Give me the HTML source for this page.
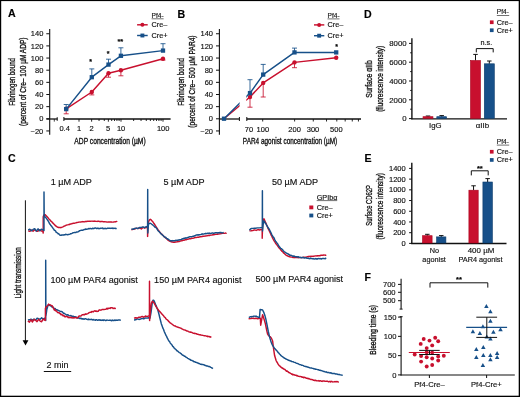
<!DOCTYPE html>
<html><head><meta charset="utf-8"><style>
html,body{margin:0;padding:0;background:#fff;}
svg{display:block;font-family:"Liberation Sans", sans-serif;will-change:transform;}
</style></head><body>
<svg width="520" height="397" viewBox="0 0 520 397">
<rect x="0" y="0" width="520" height="397" fill="#000"/>
<rect x="1.2" y="1.1" width="517.5" height="394.6" fill="#fff"/>
<text transform="translate(7.90 17.20)" font-size="10.6" text-anchor="start" font-weight="bold" fill="#000" stroke="#000" stroke-width="0.15">A</text>
<text transform="translate(177.60 17.50)" font-size="10.6" text-anchor="start" font-weight="bold" fill="#000" stroke="#000" stroke-width="0.15">B</text>
<text transform="translate(7.90 162.30)" font-size="10.6" text-anchor="start" font-weight="bold" fill="#000" stroke="#000" stroke-width="0.15">C</text>
<text transform="translate(364.00 17.70)" font-size="10.6" text-anchor="start" font-weight="bold" fill="#000" stroke="#000" stroke-width="0.15">D</text>
<text transform="translate(364.60 162.30)" font-size="10.6" text-anchor="start" font-weight="bold" fill="#000" stroke="#000" stroke-width="0.15">E</text>
<text transform="translate(364.40 281.30)" font-size="10.6" text-anchor="start" font-weight="bold" fill="#000" stroke="#000" stroke-width="0.15">F</text>
<line x1="49.70" y1="29.00" x2="49.70" y2="134.70" stroke="#111" stroke-width="1.1"/>
<line x1="46.30" y1="130.95" x2="49.70" y2="130.95" stroke="#111" stroke-width="1.0"/>
<text transform="translate(43.30 133.60)" font-size="7.5" text-anchor="end" font-weight="normal" fill="#111" stroke="#111" stroke-width="0.15">−20</text>
<line x1="46.30" y1="118.80" x2="49.70" y2="118.80" stroke="#111" stroke-width="1.0"/>
<text transform="translate(43.30 121.45)" font-size="7.5" text-anchor="end" font-weight="normal" fill="#111" stroke="#111" stroke-width="0.15">0</text>
<line x1="46.30" y1="106.65" x2="49.70" y2="106.65" stroke="#111" stroke-width="1.0"/>
<text transform="translate(43.30 109.30)" font-size="7.5" text-anchor="end" font-weight="normal" fill="#111" stroke="#111" stroke-width="0.15">20</text>
<line x1="46.30" y1="94.50" x2="49.70" y2="94.50" stroke="#111" stroke-width="1.0"/>
<text transform="translate(43.30 97.15)" font-size="7.5" text-anchor="end" font-weight="normal" fill="#111" stroke="#111" stroke-width="0.15">40</text>
<line x1="46.30" y1="82.35" x2="49.70" y2="82.35" stroke="#111" stroke-width="1.0"/>
<text transform="translate(43.30 85.00)" font-size="7.5" text-anchor="end" font-weight="normal" fill="#111" stroke="#111" stroke-width="0.15">60</text>
<line x1="46.30" y1="70.20" x2="49.70" y2="70.20" stroke="#111" stroke-width="1.0"/>
<text transform="translate(43.30 72.85)" font-size="7.5" text-anchor="end" font-weight="normal" fill="#111" stroke="#111" stroke-width="0.15">80</text>
<line x1="46.30" y1="58.05" x2="49.70" y2="58.05" stroke="#111" stroke-width="1.0"/>
<text transform="translate(43.30 60.70)" font-size="7.5" text-anchor="end" font-weight="normal" fill="#111" stroke="#111" stroke-width="0.15">100</text>
<line x1="46.30" y1="45.90" x2="49.70" y2="45.90" stroke="#111" stroke-width="1.0"/>
<text transform="translate(43.30 48.55)" font-size="7.5" text-anchor="end" font-weight="normal" fill="#111" stroke="#111" stroke-width="0.15">120</text>
<line x1="46.30" y1="33.75" x2="49.70" y2="33.75" stroke="#111" stroke-width="1.0"/>
<text transform="translate(43.30 36.40)" font-size="7.5" text-anchor="end" font-weight="normal" fill="#111" stroke="#111" stroke-width="0.15">140</text>
<text transform="translate(14.70 81.90) rotate(-90) scale(0.6837 1)" font-size="9" text-anchor="middle" font-weight="normal" fill="#111" stroke="#111" stroke-width="0.33">Fibrinogen bound</text>
<text transform="translate(25.50 81.70) rotate(-90) scale(0.7308 1)" font-size="9" text-anchor="middle" font-weight="normal" fill="#111" stroke="#111" stroke-width="0.33">(percent of Cre– 100 µM ADP)</text>
<text transform="translate(110.00 144.20) scale(0.7779 1)" font-size="8.6" text-anchor="middle" font-weight="normal" fill="#111" stroke="#111" stroke-width="0.33">ADP concentration (µM)</text>
<line x1="46.40" y1="119.00" x2="57.40" y2="119.00" stroke="#111" stroke-width="1.3"/>
<line x1="57.20" y1="117.20" x2="57.20" y2="120.80" stroke="#111" stroke-width="1.0"/>
<line x1="54.30" y1="119.00" x2="54.30" y2="121.60" stroke="#111" stroke-width="0.8"/>
<line x1="63.90" y1="119.00" x2="170.60" y2="119.00" stroke="#111" stroke-width="1.3"/>
<line x1="63.90" y1="117.00" x2="63.90" y2="121.00" stroke="#111" stroke-width="1.0"/>
<line x1="79.00" y1="119.00" x2="79.00" y2="121.70" stroke="#111" stroke-width="0.9"/>
<line x1="91.64" y1="119.00" x2="91.64" y2="121.70" stroke="#111" stroke-width="0.9"/>
<line x1="99.04" y1="119.00" x2="99.04" y2="121.00" stroke="#111" stroke-width="0.9"/>
<line x1="104.29" y1="119.00" x2="104.29" y2="121.00" stroke="#111" stroke-width="0.9"/>
<line x1="108.36" y1="119.00" x2="108.36" y2="121.70" stroke="#111" stroke-width="0.9"/>
<line x1="111.68" y1="119.00" x2="111.68" y2="121.00" stroke="#111" stroke-width="0.9"/>
<line x1="114.49" y1="119.00" x2="114.49" y2="121.00" stroke="#111" stroke-width="0.9"/>
<line x1="116.93" y1="119.00" x2="116.93" y2="121.00" stroke="#111" stroke-width="0.9"/>
<line x1="119.08" y1="119.00" x2="119.08" y2="121.00" stroke="#111" stroke-width="0.9"/>
<line x1="121.00" y1="119.00" x2="121.00" y2="121.70" stroke="#111" stroke-width="0.9"/>
<line x1="133.64" y1="119.00" x2="133.64" y2="121.00" stroke="#111" stroke-width="0.9"/>
<line x1="141.04" y1="119.00" x2="141.04" y2="121.00" stroke="#111" stroke-width="0.9"/>
<line x1="146.29" y1="119.00" x2="146.29" y2="121.00" stroke="#111" stroke-width="0.9"/>
<line x1="150.36" y1="119.00" x2="150.36" y2="121.00" stroke="#111" stroke-width="0.9"/>
<line x1="153.68" y1="119.00" x2="153.68" y2="121.00" stroke="#111" stroke-width="0.9"/>
<line x1="156.49" y1="119.00" x2="156.49" y2="121.00" stroke="#111" stroke-width="0.9"/>
<line x1="158.93" y1="119.00" x2="158.93" y2="121.00" stroke="#111" stroke-width="0.9"/>
<line x1="161.08" y1="119.00" x2="161.08" y2="121.00" stroke="#111" stroke-width="0.9"/>
<line x1="163.00" y1="119.00" x2="163.00" y2="121.70" stroke="#111" stroke-width="0.9"/>
<text transform="translate(64.60 131.40)" font-size="7.5" text-anchor="middle" font-weight="normal" fill="#111" stroke="#111" stroke-width="0.15">0.4</text>
<text transform="translate(79.00 131.40)" font-size="7.5" text-anchor="middle" font-weight="normal" fill="#111" stroke="#111" stroke-width="0.15">1</text>
<text transform="translate(91.60 131.40)" font-size="7.5" text-anchor="middle" font-weight="normal" fill="#111" stroke="#111" stroke-width="0.15">2</text>
<text transform="translate(108.20 131.40)" font-size="7.5" text-anchor="middle" font-weight="normal" fill="#111" stroke="#111" stroke-width="0.15">5</text>
<text transform="translate(121.10 131.40)" font-size="7.5" text-anchor="middle" font-weight="normal" fill="#111" stroke="#111" stroke-width="0.15">10</text>
<text transform="translate(163.20 131.40)" font-size="7.5" text-anchor="middle" font-weight="normal" fill="#111" stroke="#111" stroke-width="0.15">100</text>
<line x1="66.20" y1="108.80" x2="66.20" y2="113.80" stroke="#c8102e" stroke-width="0.85"/>
<line x1="63.70" y1="113.80" x2="68.70" y2="113.80" stroke="#c8102e" stroke-width="0.85"/>
<line x1="91.80" y1="92.00" x2="91.80" y2="94.90" stroke="#c8102e" stroke-width="0.85"/>
<line x1="89.30" y1="94.90" x2="94.30" y2="94.90" stroke="#c8102e" stroke-width="0.85"/>
<line x1="108.50" y1="73.30" x2="108.50" y2="77.20" stroke="#c8102e" stroke-width="0.85"/>
<line x1="106.00" y1="77.20" x2="111.00" y2="77.20" stroke="#c8102e" stroke-width="0.85"/>
<line x1="120.90" y1="70.30" x2="120.90" y2="75.80" stroke="#c8102e" stroke-width="0.85"/>
<line x1="118.40" y1="75.80" x2="123.40" y2="75.80" stroke="#c8102e" stroke-width="0.85"/>
<line x1="163.00" y1="58.70" x2="163.00" y2="60.00" stroke="#c8102e" stroke-width="0.85"/>
<line x1="160.50" y1="60.00" x2="165.50" y2="60.00" stroke="#c8102e" stroke-width="0.85"/>
<polyline points="66.20,108.80 91.80,92.00 108.50,73.30 120.90,70.30 163.00,58.70" fill="none" stroke="#c8102e" stroke-width="1.45" stroke-linejoin="round"/>
<circle cx="66.20" cy="108.80" r="2.2" fill="#c8102e"/>
<circle cx="91.80" cy="92.00" r="2.2" fill="#c8102e"/>
<circle cx="108.50" cy="73.30" r="2.2" fill="#c8102e"/>
<circle cx="120.90" cy="70.30" r="2.2" fill="#c8102e"/>
<circle cx="163.00" cy="58.70" r="2.2" fill="#c8102e"/>
<line x1="66.20" y1="109.10" x2="66.20" y2="104.50" stroke="#175089" stroke-width="0.85"/>
<line x1="63.70" y1="104.50" x2="68.70" y2="104.50" stroke="#175089" stroke-width="0.85"/>
<line x1="91.80" y1="77.20" x2="91.80" y2="68.90" stroke="#175089" stroke-width="0.85"/>
<line x1="89.30" y1="68.90" x2="94.30" y2="68.90" stroke="#175089" stroke-width="0.85"/>
<line x1="108.50" y1="64.60" x2="108.50" y2="59.20" stroke="#175089" stroke-width="0.85"/>
<line x1="106.00" y1="59.20" x2="111.00" y2="59.20" stroke="#175089" stroke-width="0.85"/>
<line x1="120.90" y1="55.80" x2="120.90" y2="47.80" stroke="#175089" stroke-width="0.85"/>
<line x1="118.40" y1="47.80" x2="123.40" y2="47.80" stroke="#175089" stroke-width="0.85"/>
<line x1="163.00" y1="50.60" x2="163.00" y2="43.70" stroke="#175089" stroke-width="0.85"/>
<line x1="160.50" y1="43.70" x2="165.50" y2="43.70" stroke="#175089" stroke-width="0.85"/>
<polyline points="66.20,109.10 91.80,77.20 108.50,64.60 120.90,55.80 163.00,50.60" fill="none" stroke="#175089" stroke-width="1.45" stroke-linejoin="round"/>
<rect x="64.05" y="106.95" width="4.3" height="4.3" fill="#175089"/>
<rect x="89.65" y="75.05" width="4.3" height="4.3" fill="#175089"/>
<rect x="106.35" y="62.45" width="4.3" height="4.3" fill="#175089"/>
<rect x="118.75" y="53.65" width="4.3" height="4.3" fill="#175089"/>
<rect x="160.85" y="48.45" width="4.3" height="4.3" fill="#175089"/>
<text transform="translate(90.60 64.10)" font-size="7.0" text-anchor="middle" font-weight="bold" fill="#000" stroke="#000" stroke-width="0.15">*</text>
<text transform="translate(108.20 55.60)" font-size="7.0" text-anchor="middle" font-weight="bold" fill="#000" stroke="#000" stroke-width="0.15">*</text>
<text transform="translate(120.30 44.40) scale(1.0646 1)" font-size="7.0" text-anchor="middle" font-weight="bold" fill="#000" stroke="#000" stroke-width="0.15">**</text>
<text transform="translate(151.60 17.60)" font-size="6.6" text-anchor="start" font-weight="normal" fill="#111" stroke="#111" stroke-width="0.15">Pf4-</text>
<line x1="151.60" y1="18.80" x2="163.60" y2="18.80" stroke="#111" stroke-width="0.6"/>
<line x1="137.10" y1="24.80" x2="147.70" y2="24.80" stroke="#c8102e" stroke-width="1.45"/>
<circle cx="142.40" cy="24.80" r="2.0" fill="#c8102e"/>
<text transform="translate(151.60 27.30)" font-size="7.3" text-anchor="start" font-weight="normal" fill="#111" stroke="#111" stroke-width="0.15">Cre–</text>
<line x1="137.10" y1="35.50" x2="147.70" y2="35.50" stroke="#175089" stroke-width="1.45"/>
<rect x="140.45" y="33.55" width="3.9" height="3.9" fill="#175089"/>
<text transform="translate(151.60 38.00)" font-size="7.3" text-anchor="start" font-weight="normal" fill="#111" stroke="#111" stroke-width="0.15">Cre+</text>
<line x1="219.40" y1="29.00" x2="219.40" y2="134.70" stroke="#111" stroke-width="1.1"/>
<line x1="216.00" y1="130.95" x2="219.40" y2="130.95" stroke="#111" stroke-width="1.0"/>
<text transform="translate(213.00 133.60)" font-size="7.5" text-anchor="end" font-weight="normal" fill="#111" stroke="#111" stroke-width="0.15">−20</text>
<line x1="216.00" y1="118.80" x2="219.40" y2="118.80" stroke="#111" stroke-width="1.0"/>
<text transform="translate(213.00 121.45)" font-size="7.5" text-anchor="end" font-weight="normal" fill="#111" stroke="#111" stroke-width="0.15">0</text>
<line x1="216.00" y1="106.65" x2="219.40" y2="106.65" stroke="#111" stroke-width="1.0"/>
<text transform="translate(213.00 109.30)" font-size="7.5" text-anchor="end" font-weight="normal" fill="#111" stroke="#111" stroke-width="0.15">20</text>
<line x1="216.00" y1="94.50" x2="219.40" y2="94.50" stroke="#111" stroke-width="1.0"/>
<text transform="translate(213.00 97.15)" font-size="7.5" text-anchor="end" font-weight="normal" fill="#111" stroke="#111" stroke-width="0.15">40</text>
<line x1="216.00" y1="82.35" x2="219.40" y2="82.35" stroke="#111" stroke-width="1.0"/>
<text transform="translate(213.00 85.00)" font-size="7.5" text-anchor="end" font-weight="normal" fill="#111" stroke="#111" stroke-width="0.15">60</text>
<line x1="216.00" y1="70.20" x2="219.40" y2="70.20" stroke="#111" stroke-width="1.0"/>
<text transform="translate(213.00 72.85)" font-size="7.5" text-anchor="end" font-weight="normal" fill="#111" stroke="#111" stroke-width="0.15">80</text>
<line x1="216.00" y1="58.05" x2="219.40" y2="58.05" stroke="#111" stroke-width="1.0"/>
<text transform="translate(213.00 60.70)" font-size="7.5" text-anchor="end" font-weight="normal" fill="#111" stroke="#111" stroke-width="0.15">100</text>
<line x1="216.00" y1="45.90" x2="219.40" y2="45.90" stroke="#111" stroke-width="1.0"/>
<text transform="translate(213.00 48.55)" font-size="7.5" text-anchor="end" font-weight="normal" fill="#111" stroke="#111" stroke-width="0.15">120</text>
<line x1="216.00" y1="33.75" x2="219.40" y2="33.75" stroke="#111" stroke-width="1.0"/>
<text transform="translate(213.00 36.40)" font-size="7.5" text-anchor="end" font-weight="normal" fill="#111" stroke="#111" stroke-width="0.15">140</text>
<text transform="translate(184.40 81.90) rotate(-90) scale(0.6837 1)" font-size="9" text-anchor="middle" font-weight="normal" fill="#111" stroke="#111" stroke-width="0.33">Fibrinogen bound</text>
<text transform="translate(195.20 81.60) rotate(-90) scale(0.7321 1)" font-size="9" text-anchor="middle" font-weight="normal" fill="#111" stroke="#111" stroke-width="0.33">(percent of Cre– 500 µM PAR4)</text>
<text transform="translate(290.00 144.20) scale(0.7495 1)" font-size="8.6" text-anchor="middle" font-weight="normal" fill="#111" stroke="#111" stroke-width="0.33">PAR4 agonist concentration (µM)</text>
<line x1="219.40" y1="119.00" x2="239.40" y2="119.00" stroke="#111" stroke-width="1.3"/>
<line x1="239.40" y1="117.00" x2="239.40" y2="121.00" stroke="#111" stroke-width="1.0"/>
<line x1="246.80" y1="119.00" x2="361.00" y2="119.00" stroke="#111" stroke-width="1.3"/>
<line x1="246.80" y1="117.00" x2="246.80" y2="121.00" stroke="#111" stroke-width="1.0"/>
<line x1="262.70" y1="119.00" x2="262.70" y2="121.50" stroke="#111" stroke-width="0.9"/>
<line x1="294.61" y1="119.00" x2="294.61" y2="121.50" stroke="#111" stroke-width="0.9"/>
<line x1="313.27" y1="119.00" x2="313.27" y2="121.50" stroke="#111" stroke-width="0.9"/>
<line x1="326.52" y1="119.00" x2="326.52" y2="121.50" stroke="#111" stroke-width="0.9"/>
<line x1="336.79" y1="119.00" x2="336.79" y2="121.50" stroke="#111" stroke-width="0.9"/>
<line x1="345.18" y1="119.00" x2="345.18" y2="121.50" stroke="#111" stroke-width="0.9"/>
<line x1="352.28" y1="119.00" x2="352.28" y2="121.50" stroke="#111" stroke-width="0.9"/>
<line x1="358.43" y1="119.00" x2="358.43" y2="121.50" stroke="#111" stroke-width="0.9"/>
<text transform="translate(248.90 131.60)" font-size="7.5" text-anchor="middle" font-weight="normal" fill="#111" stroke="#111" stroke-width="0.15">70</text>
<text transform="translate(262.80 131.60)" font-size="7.5" text-anchor="middle" font-weight="normal" fill="#111" stroke="#111" stroke-width="0.15">100</text>
<text transform="translate(294.60 131.60)" font-size="7.5" text-anchor="middle" font-weight="normal" fill="#111" stroke="#111" stroke-width="0.15">200</text>
<text transform="translate(313.00 131.60)" font-size="7.5" text-anchor="middle" font-weight="normal" fill="#111" stroke="#111" stroke-width="0.15">300</text>
<text transform="translate(336.30 131.60)" font-size="7.5" text-anchor="middle" font-weight="normal" fill="#111" stroke="#111" stroke-width="0.15">500</text>
<defs><clipPath id="cb"><rect x="0" y="0" width="239.6" height="397"/><rect x="246.3" y="0" width="200" height="397"/></clipPath></defs>
<g clip-path="url(#cb)">
<line x1="250.00" y1="97.00" x2="250.00" y2="107.20" stroke="#c8102e" stroke-width="0.85"/>
<line x1="247.50" y1="107.20" x2="252.50" y2="107.20" stroke="#c8102e" stroke-width="0.85"/>
<line x1="263.20" y1="82.90" x2="263.20" y2="97.00" stroke="#c8102e" stroke-width="0.85"/>
<line x1="260.70" y1="97.00" x2="265.70" y2="97.00" stroke="#c8102e" stroke-width="0.85"/>
<line x1="294.50" y1="62.40" x2="294.50" y2="67.70" stroke="#c8102e" stroke-width="0.85"/>
<line x1="292.00" y1="67.70" x2="297.00" y2="67.70" stroke="#c8102e" stroke-width="0.85"/>
<polyline points="224.00,118.70 250.00,97.00 263.20,82.90 294.50,62.40 336.20,57.70" fill="none" stroke="#c8102e" stroke-width="1.45" stroke-linejoin="round"/>
<circle cx="250.00" cy="97.00" r="2.2" fill="#c8102e"/>
<circle cx="263.20" cy="82.90" r="2.2" fill="#c8102e"/>
<circle cx="294.50" cy="62.40" r="2.2" fill="#c8102e"/>
<circle cx="336.20" cy="57.70" r="2.2" fill="#c8102e"/>
<line x1="250.00" y1="93.10" x2="250.00" y2="79.70" stroke="#175089" stroke-width="0.85"/>
<line x1="247.50" y1="79.70" x2="252.50" y2="79.70" stroke="#175089" stroke-width="0.85"/>
<line x1="263.20" y1="74.60" x2="263.20" y2="64.40" stroke="#175089" stroke-width="0.85"/>
<line x1="260.70" y1="64.40" x2="265.70" y2="64.40" stroke="#175089" stroke-width="0.85"/>
<line x1="294.50" y1="52.40" x2="294.50" y2="48.10" stroke="#175089" stroke-width="0.85"/>
<line x1="292.00" y1="48.10" x2="297.00" y2="48.10" stroke="#175089" stroke-width="0.85"/>
<polyline points="224.00,118.70 250.00,93.10 263.20,74.60 294.50,52.40 336.20,52.40" fill="none" stroke="#175089" stroke-width="1.45" stroke-linejoin="round"/>
<rect x="221.85" y="116.55" width="4.3" height="4.3" fill="#175089"/>
<rect x="247.85" y="90.95" width="4.3" height="4.3" fill="#175089"/>
<rect x="261.05" y="72.45" width="4.3" height="4.3" fill="#175089"/>
<rect x="292.35" y="50.25" width="4.3" height="4.3" fill="#175089"/>
<rect x="334.05" y="50.25" width="4.3" height="4.3" fill="#175089"/>
</g>
<text transform="translate(336.60 49.30)" font-size="7.0" text-anchor="middle" font-weight="bold" fill="#000" stroke="#000" stroke-width="0.15">*</text>
<text transform="translate(327.50 17.70)" font-size="6.6" text-anchor="start" font-weight="normal" fill="#111" stroke="#111" stroke-width="0.15">Pf4-</text>
<line x1="327.50" y1="18.90" x2="339.50" y2="18.90" stroke="#111" stroke-width="0.6"/>
<line x1="314.00" y1="24.90" x2="324.30" y2="24.90" stroke="#c8102e" stroke-width="1.45"/>
<circle cx="319.15" cy="24.90" r="2.0" fill="#c8102e"/>
<text transform="translate(327.50 27.40)" font-size="7.3" text-anchor="start" font-weight="normal" fill="#111" stroke="#111" stroke-width="0.15">Cre–</text>
<line x1="314.00" y1="35.70" x2="324.30" y2="35.70" stroke="#175089" stroke-width="1.45"/>
<rect x="317.20" y="33.75" width="3.9" height="3.9" fill="#175089"/>
<text transform="translate(327.50 38.20)" font-size="7.3" text-anchor="start" font-weight="normal" fill="#111" stroke="#111" stroke-width="0.15">Cre+</text>
<line x1="411.90" y1="38.30" x2="411.90" y2="119.30" stroke="#111" stroke-width="1.4"/>
<line x1="409.00" y1="118.60" x2="411.90" y2="118.60" stroke="#111" stroke-width="1.0"/>
<text transform="translate(406.60 121.30)" font-size="7.8" text-anchor="end" font-weight="normal" fill="#111" stroke="#111" stroke-width="0.15">0</text>
<line x1="410.20" y1="109.20" x2="411.90" y2="109.20" stroke="#111" stroke-width="1.0"/>
<line x1="409.00" y1="99.80" x2="411.90" y2="99.80" stroke="#111" stroke-width="1.0"/>
<text transform="translate(406.60 102.50)" font-size="7.8" text-anchor="end" font-weight="normal" fill="#111" stroke="#111" stroke-width="0.15">2000</text>
<line x1="410.20" y1="90.40" x2="411.90" y2="90.40" stroke="#111" stroke-width="1.0"/>
<line x1="409.00" y1="81.00" x2="411.90" y2="81.00" stroke="#111" stroke-width="1.0"/>
<text transform="translate(406.60 83.70)" font-size="7.8" text-anchor="end" font-weight="normal" fill="#111" stroke="#111" stroke-width="0.15">4000</text>
<line x1="410.20" y1="71.60" x2="411.90" y2="71.60" stroke="#111" stroke-width="1.0"/>
<line x1="409.00" y1="62.20" x2="411.90" y2="62.20" stroke="#111" stroke-width="1.0"/>
<text transform="translate(406.60 64.90)" font-size="7.8" text-anchor="end" font-weight="normal" fill="#111" stroke="#111" stroke-width="0.15">6000</text>
<line x1="410.20" y1="52.80" x2="411.90" y2="52.80" stroke="#111" stroke-width="1.0"/>
<line x1="409.00" y1="43.40" x2="411.90" y2="43.40" stroke="#111" stroke-width="1.0"/>
<text transform="translate(406.60 46.10)" font-size="7.8" text-anchor="end" font-weight="normal" fill="#111" stroke="#111" stroke-width="0.15">8000</text>
<line x1="411.20" y1="118.90" x2="507.00" y2="118.90" stroke="#111" stroke-width="1.4"/>
<line x1="428.00" y1="116.70" x2="428.00" y2="116.00" stroke="#111" stroke-width="1.0"/>
<line x1="425.75" y1="116.00" x2="430.25" y2="116.00" stroke="#111" stroke-width="1.0"/>
<rect x="423.00" y="116.70" width="10.00" height="1.70" fill="#c8102e" stroke="#a8001c" stroke-width="0.6"/>
<line x1="441.70" y1="116.70" x2="441.70" y2="115.60" stroke="#111" stroke-width="1.0"/>
<line x1="439.45" y1="115.60" x2="443.95" y2="115.60" stroke="#111" stroke-width="1.0"/>
<rect x="436.80" y="116.70" width="9.80" height="1.70" fill="#175089" stroke="#0b3a6a" stroke-width="0.6"/>
<line x1="475.50" y1="60.50" x2="475.50" y2="54.40" stroke="#111" stroke-width="1.0"/>
<line x1="473.25" y1="54.40" x2="477.75" y2="54.40" stroke="#111" stroke-width="1.0"/>
<rect x="470.50" y="60.50" width="10.00" height="57.90" fill="#c8102e" stroke="#a8001c" stroke-width="0.6"/>
<line x1="489.30" y1="63.80" x2="489.30" y2="61.00" stroke="#111" stroke-width="1.0"/>
<line x1="487.05" y1="61.00" x2="491.55" y2="61.00" stroke="#111" stroke-width="1.0"/>
<rect x="484.30" y="63.80" width="10.00" height="54.60" fill="#175089" stroke="#0b3a6a" stroke-width="0.6"/>
<path d="M476.30,52.40 L476.30,48.60 L493.20,48.60 L493.20,52.40" fill="none" stroke="#111" stroke-width="1.0"/>
<text transform="translate(486.40 45.00)" font-size="7.3" text-anchor="middle" font-weight="normal" fill="#111" stroke="#111" stroke-width="0.15">n.s.</text>
<text transform="translate(435.30 128.30) scale(1.0286 1)" font-size="7.6" text-anchor="middle" font-weight="normal" fill="#111" stroke="#111" stroke-width="0.15">IgG</text>
<text transform="translate(482.40 128.30) scale(1.0433 1)" font-size="7.6" text-anchor="middle" font-weight="normal" fill="#111" stroke="#111" stroke-width="0.15">αIIb</text>
<text transform="translate(372.00 78.90) rotate(-90) scale(0.7468 1)" font-size="9.3" text-anchor="middle" font-weight="normal" fill="#111" stroke="#111" stroke-width="0.33">Surface αIIb</text>
<text transform="translate(382.70 78.80) rotate(-90) scale(0.6902 1)" font-size="9.3" text-anchor="middle" font-weight="normal" fill="#111" stroke="#111" stroke-width="0.33">(fluorescence intensity)</text>
<text transform="translate(496.80 14.40)" font-size="6.6" text-anchor="start" font-weight="normal" fill="#111" stroke="#111" stroke-width="0.15">Pf4-</text>
<line x1="496.80" y1="15.50" x2="509.20" y2="15.50" stroke="#111" stroke-width="0.6"/>
<rect x="489.90" y="20.40" width="3.70" height="3.70" fill="#c8102e"/>
<text transform="translate(496.80 24.60)" font-size="7.3" text-anchor="start" font-weight="normal" fill="#111" stroke="#111" stroke-width="0.15">Cre–</text>
<rect x="489.90" y="28.40" width="3.70" height="3.70" fill="#175089"/>
<text transform="translate(496.80 32.60)" font-size="7.3" text-anchor="start" font-weight="normal" fill="#111" stroke="#111" stroke-width="0.15">Cre+</text>
<line x1="411.80" y1="162.70" x2="411.80" y2="244.10" stroke="#111" stroke-width="1.4"/>
<line x1="409.10" y1="243.40" x2="411.80" y2="243.40" stroke="#111" stroke-width="1.0"/>
<text transform="translate(405.70 246.05)" font-size="7.5" text-anchor="end" font-weight="normal" fill="#111" stroke="#111" stroke-width="0.15">0</text>
<line x1="409.10" y1="232.69" x2="411.80" y2="232.69" stroke="#111" stroke-width="1.0"/>
<text transform="translate(405.70 235.34)" font-size="7.5" text-anchor="end" font-weight="normal" fill="#111" stroke="#111" stroke-width="0.15">200</text>
<line x1="409.10" y1="221.97" x2="411.80" y2="221.97" stroke="#111" stroke-width="1.0"/>
<text transform="translate(405.70 224.62)" font-size="7.5" text-anchor="end" font-weight="normal" fill="#111" stroke="#111" stroke-width="0.15">400</text>
<line x1="409.10" y1="211.26" x2="411.80" y2="211.26" stroke="#111" stroke-width="1.0"/>
<text transform="translate(405.70 213.91)" font-size="7.5" text-anchor="end" font-weight="normal" fill="#111" stroke="#111" stroke-width="0.15">600</text>
<line x1="409.10" y1="200.54" x2="411.80" y2="200.54" stroke="#111" stroke-width="1.0"/>
<text transform="translate(405.70 203.19)" font-size="7.5" text-anchor="end" font-weight="normal" fill="#111" stroke="#111" stroke-width="0.15">800</text>
<line x1="409.10" y1="189.83" x2="411.80" y2="189.83" stroke="#111" stroke-width="1.0"/>
<text transform="translate(405.70 192.48)" font-size="7.5" text-anchor="end" font-weight="normal" fill="#111" stroke="#111" stroke-width="0.15">1000</text>
<line x1="409.10" y1="179.12" x2="411.80" y2="179.12" stroke="#111" stroke-width="1.0"/>
<text transform="translate(405.70 181.77)" font-size="7.5" text-anchor="end" font-weight="normal" fill="#111" stroke="#111" stroke-width="0.15">1200</text>
<line x1="409.10" y1="168.40" x2="411.80" y2="168.40" stroke="#111" stroke-width="1.0"/>
<text transform="translate(405.70 171.05)" font-size="7.5" text-anchor="end" font-weight="normal" fill="#111" stroke="#111" stroke-width="0.15">1400</text>
<line x1="411.10" y1="243.50" x2="506.50" y2="243.50" stroke="#111" stroke-width="1.4"/>
<line x1="427.30" y1="235.70" x2="427.30" y2="234.30" stroke="#111" stroke-width="1.0"/>
<line x1="425.05" y1="234.30" x2="429.55" y2="234.30" stroke="#111" stroke-width="1.0"/>
<rect x="422.50" y="235.70" width="9.60" height="7.30" fill="#c8102e" stroke="#a8001c" stroke-width="0.6"/>
<line x1="441.25" y1="236.90" x2="441.25" y2="235.60" stroke="#111" stroke-width="1.0"/>
<line x1="439.00" y1="235.60" x2="443.50" y2="235.60" stroke="#111" stroke-width="1.0"/>
<rect x="436.60" y="236.90" width="9.30" height="6.10" fill="#175089" stroke="#0b3a6a" stroke-width="0.6"/>
<line x1="473.55" y1="190.20" x2="473.55" y2="185.80" stroke="#111" stroke-width="1.0"/>
<line x1="471.30" y1="185.80" x2="475.80" y2="185.80" stroke="#111" stroke-width="1.0"/>
<rect x="468.90" y="190.20" width="9.30" height="52.80" fill="#c8102e" stroke="#a8001c" stroke-width="0.6"/>
<line x1="487.65" y1="182.00" x2="487.65" y2="178.60" stroke="#111" stroke-width="1.0"/>
<line x1="485.40" y1="178.60" x2="489.90" y2="178.60" stroke="#111" stroke-width="1.0"/>
<rect x="482.90" y="182.00" width="9.50" height="61.00" fill="#175089" stroke="#0b3a6a" stroke-width="0.6"/>
<path d="M471.30,175.40 L471.30,170.80 L488.20,170.80 L488.20,175.40" fill="none" stroke="#111" stroke-width="1.0"/>
<text transform="translate(479.80 170.90) scale(1.0646 1)" font-size="7.0" text-anchor="middle" font-weight="bold" fill="#000" stroke="#000" stroke-width="0.15">**</text>
<text transform="translate(434.40 252.60)" font-size="7.3" text-anchor="middle" font-weight="normal" fill="#111" stroke="#111" stroke-width="0.15">No</text>
<text transform="translate(434.10 261.90)" font-size="7.3" text-anchor="middle" font-weight="normal" fill="#111" stroke="#111" stroke-width="0.15">agonist</text>
<text transform="translate(481.00 252.60) scale(1.0859 1)" font-size="7.3" text-anchor="middle" font-weight="normal" fill="#111" stroke="#111" stroke-width="0.15">400 µM</text>
<text transform="translate(480.50 261.90)" font-size="7.3" text-anchor="middle" font-weight="normal" fill="#111" stroke="#111" stroke-width="0.15">PAR4 agonist</text>
<text transform="translate(372.00 205.40) rotate(-90) scale(0.6151 1)" font-size="9.5" text-anchor="middle" font-weight="normal" fill="#111" stroke="#111" stroke-width="0.33">Surface CD62P</text>
<text transform="translate(382.70 206.30) rotate(-90) scale(0.6965 1)" font-size="9.3" text-anchor="middle" font-weight="normal" fill="#111" stroke="#111" stroke-width="0.33">(fluorescence intensity)</text>
<text transform="translate(496.80 144.00)" font-size="6.6" text-anchor="start" font-weight="normal" fill="#111" stroke="#111" stroke-width="0.15">Pf4-</text>
<line x1="496.80" y1="145.10" x2="509.20" y2="145.10" stroke="#111" stroke-width="0.6"/>
<rect x="489.90" y="149.90" width="3.70" height="3.70" fill="#c8102e"/>
<text transform="translate(496.80 154.10)" font-size="7.3" text-anchor="start" font-weight="normal" fill="#111" stroke="#111" stroke-width="0.15">Cre–</text>
<rect x="489.90" y="158.10" width="3.70" height="3.70" fill="#175089"/>
<text transform="translate(496.80 162.30)" font-size="7.3" text-anchor="start" font-weight="normal" fill="#111" stroke="#111" stroke-width="0.15">Cre+</text>
<line x1="401.10" y1="278.80" x2="401.10" y2="309.10" stroke="#111" stroke-width="1.1"/>
<line x1="399.60" y1="309.10" x2="402.60" y2="309.10" stroke="#111" stroke-width="1.0"/>
<line x1="398.00" y1="284.40" x2="401.10" y2="284.40" stroke="#111" stroke-width="1.0"/>
<text transform="translate(395.60 287.05)" font-size="7.6" text-anchor="end" font-weight="normal" fill="#111" stroke="#111" stroke-width="0.15">700</text>
<line x1="398.00" y1="292.30" x2="401.10" y2="292.30" stroke="#111" stroke-width="1.0"/>
<text transform="translate(395.60 294.95)" font-size="7.6" text-anchor="end" font-weight="normal" fill="#111" stroke="#111" stroke-width="0.15">600</text>
<line x1="398.00" y1="300.70" x2="401.10" y2="300.70" stroke="#111" stroke-width="1.0"/>
<text transform="translate(395.60 303.35)" font-size="7.6" text-anchor="end" font-weight="normal" fill="#111" stroke="#111" stroke-width="0.15">500</text>
<line x1="401.10" y1="316.70" x2="401.10" y2="375.40" stroke="#111" stroke-width="1.1"/>
<line x1="399.60" y1="316.70" x2="402.60" y2="316.70" stroke="#111" stroke-width="1.0"/>
<line x1="398.00" y1="317.10" x2="401.10" y2="317.10" stroke="#111" stroke-width="1.0"/>
<text transform="translate(396.40 319.75)" font-size="7.6" text-anchor="end" font-weight="normal" fill="#111" stroke="#111" stroke-width="0.15">150</text>
<line x1="398.00" y1="336.37" x2="401.10" y2="336.37" stroke="#111" stroke-width="1.0"/>
<text transform="translate(396.40 339.02)" font-size="7.6" text-anchor="end" font-weight="normal" fill="#111" stroke="#111" stroke-width="0.15">100</text>
<line x1="398.00" y1="355.63" x2="401.10" y2="355.63" stroke="#111" stroke-width="1.0"/>
<text transform="translate(396.40 358.28)" font-size="7.6" text-anchor="end" font-weight="normal" fill="#111" stroke="#111" stroke-width="0.15">50</text>
<line x1="398.00" y1="374.90" x2="401.10" y2="374.90" stroke="#111" stroke-width="1.0"/>
<text transform="translate(396.40 377.55)" font-size="7.6" text-anchor="end" font-weight="normal" fill="#111" stroke="#111" stroke-width="0.15">0</text>
<line x1="400.60" y1="375.00" x2="514.80" y2="375.00" stroke="#111" stroke-width="1.1"/>
<line x1="429.40" y1="375.00" x2="429.40" y2="378.00" stroke="#111" stroke-width="1.0"/>
<line x1="486.60" y1="375.00" x2="486.60" y2="378.00" stroke="#111" stroke-width="1.0"/>
<text transform="translate(429.50 387.30) scale(1.0196 1)" font-size="7.5" text-anchor="middle" font-weight="normal" fill="#111" stroke="#111" stroke-width="0.15">Pf4-Cre–</text>
<text transform="translate(486.40 387.30) scale(1.0192 1)" font-size="7.5" text-anchor="middle" font-weight="normal" fill="#111" stroke="#111" stroke-width="0.15">Pf4-Cre+</text>
<text transform="translate(375.80 329.90) rotate(-90) scale(0.7718 1)" font-size="8.6" text-anchor="middle" font-weight="normal" fill="#111" stroke="#111" stroke-width="0.33">Bleeding time (s)</text>
<path d="M430.00,287.60 L430.00,282.80 L487.80,282.80 L487.80,287.60" fill="none" stroke="#111" stroke-width="1.0"/>
<text transform="translate(458.90 281.50) scale(1.0646 1)" font-size="7.0" text-anchor="middle" font-weight="bold" fill="#000" stroke="#000" stroke-width="0.15">**</text>
<circle cx="423.70" cy="339.00" r="1.95" fill="#c8102e"/>
<circle cx="429.50" cy="340.60" r="1.95" fill="#c8102e"/>
<circle cx="435.20" cy="337.80" r="1.95" fill="#c8102e"/>
<circle cx="438.20" cy="341.30" r="1.95" fill="#c8102e"/>
<circle cx="420.70" cy="343.90" r="1.95" fill="#c8102e"/>
<circle cx="432.20" cy="345.40" r="1.95" fill="#c8102e"/>
<circle cx="426.70" cy="348.10" r="1.95" fill="#c8102e"/>
<circle cx="426.70" cy="352.20" r="1.95" fill="#c8102e"/>
<circle cx="432.20" cy="352.60" r="1.95" fill="#c8102e"/>
<circle cx="414.70" cy="354.50" r="1.95" fill="#c8102e"/>
<circle cx="421.10" cy="356.00" r="1.95" fill="#c8102e"/>
<circle cx="426.70" cy="357.20" r="1.95" fill="#c8102e"/>
<circle cx="432.20" cy="358.50" r="1.95" fill="#c8102e"/>
<circle cx="438.20" cy="356.40" r="1.95" fill="#c8102e"/>
<circle cx="443.80" cy="355.70" r="1.95" fill="#c8102e"/>
<circle cx="421.10" cy="361.60" r="1.95" fill="#c8102e"/>
<circle cx="438.20" cy="360.50" r="1.95" fill="#c8102e"/>
<circle cx="432.20" cy="365.00" r="1.95" fill="#c8102e"/>
<circle cx="426.70" cy="366.50" r="1.95" fill="#c8102e"/>
<line x1="408.80" y1="352.50" x2="449.80" y2="352.50" stroke="#c8102e" stroke-width="1.2"/>
<line x1="419.20" y1="350.40" x2="439.70" y2="350.40" stroke="#111" stroke-width="1.0"/>
<line x1="419.20" y1="354.50" x2="439.70" y2="354.50" stroke="#111" stroke-width="1.0"/>
<line x1="429.50" y1="350.40" x2="429.50" y2="354.50" stroke="#111" stroke-width="1.0"/>
<polygon points="486.40,304.08 488.65,308.12 484.15,308.12" fill="#175089"/>
<polygon points="490.40,309.18 492.65,313.22 488.15,313.22" fill="#175089"/>
<polygon points="490.40,318.78 492.65,322.82 488.15,322.82" fill="#175089"/>
<polygon points="482.90,324.28 485.15,328.32 480.65,328.32" fill="#175089"/>
<polygon points="472.90,329.28 475.15,333.32 470.65,333.32" fill="#175089"/>
<polygon points="479.90,330.88 482.15,334.92 477.65,334.92" fill="#175089"/>
<polygon points="493.40,329.68 495.65,333.72 491.15,333.72" fill="#175089"/>
<polygon points="500.50,327.28 502.75,331.32 498.25,331.32" fill="#175089"/>
<polygon points="486.80,334.38 489.05,338.42 484.55,338.42" fill="#175089"/>
<polygon points="490.40,336.38 492.65,340.42 488.15,340.42" fill="#175089"/>
<polygon points="476.30,346.88 478.55,350.92 474.05,350.92" fill="#175089"/>
<polygon points="483.30,344.88 485.55,348.92 481.05,348.92" fill="#175089"/>
<polygon points="497.10,350.88 499.35,354.92 494.85,354.92" fill="#175089"/>
<polygon points="476.30,354.88 478.55,358.92 474.05,358.92" fill="#175089"/>
<polygon points="483.30,352.88 485.55,356.92 481.05,356.92" fill="#175089"/>
<polygon points="490.40,352.88 492.65,356.92 488.15,356.92" fill="#175089"/>
<polygon points="490.40,357.18 492.65,361.22 488.15,361.22" fill="#175089"/>
<polygon points="497.10,354.88 499.35,358.92 494.85,358.92" fill="#175089"/>
<polygon points="482.90,362.98 485.15,367.02 480.65,367.02" fill="#175089"/>
<line x1="466.20" y1="327.30" x2="507.10" y2="327.30" stroke="#175089" stroke-width="1.2"/>
<line x1="476.30" y1="317.20" x2="497.10" y2="317.20" stroke="#111" stroke-width="1.0"/>
<line x1="476.30" y1="337.40" x2="497.10" y2="337.40" stroke="#111" stroke-width="1.0"/>
<line x1="486.80" y1="317.20" x2="486.80" y2="337.40" stroke="#111" stroke-width="1.0"/>
<text transform="translate(71.30 185.00) scale(1.0123 1)" font-size="9.0" text-anchor="middle" font-weight="normal" fill="#111" stroke="#111" stroke-width="0.15">1 µM ADP</text>
<text transform="translate(184.00 184.70) scale(1.0123 1)" font-size="9.0" text-anchor="middle" font-weight="normal" fill="#111" stroke="#111" stroke-width="0.15">5 µM ADP</text>
<text transform="translate(295.00 184.70) scale(1.0130 1)" font-size="9.0" text-anchor="middle" font-weight="normal" fill="#111" stroke="#111" stroke-width="0.15">50 µM ADP</text>
<text transform="translate(50.40 282.70) scale(1.0061 1)" font-size="9.0" text-anchor="start" font-weight="normal" fill="#111" stroke="#111" stroke-width="0.15">100 µM PAR4 agonist</text>
<text transform="translate(154.10 282.80) scale(1.0061 1)" font-size="9.0" text-anchor="start" font-weight="normal" fill="#111" stroke="#111" stroke-width="0.15">150 µM PAR4 agonist</text>
<text transform="translate(255.50 281.80) scale(1.0061 1)" font-size="9.0" text-anchor="start" font-weight="normal" fill="#111" stroke="#111" stroke-width="0.15">500 µM PAR4 agonist</text>
<text transform="translate(20.90 272.90) rotate(-90) scale(0.7593 1)" font-size="8.4" text-anchor="middle" font-weight="normal" fill="#111" stroke="#111" stroke-width="0.33">Light transmission</text>
<text transform="translate(57.50 367.50) scale(1.0177 1)" font-size="8.8" text-anchor="middle" font-weight="normal" fill="#111" stroke="#111" stroke-width="0.15">2 min</text>
<line x1="43.80" y1="371.50" x2="71.20" y2="371.50" stroke="#111" stroke-width="1.0"/>
<line x1="25.40" y1="200.30" x2="25.40" y2="341.00" stroke="#111" stroke-width="1.0"/>
<polygon points="22.6,340.3 28.4,340.3 25.5,345.6" fill="#000"/>
<text transform="translate(316.70 199.50) scale(0.9973 1)" font-size="7.3" text-anchor="start" font-weight="normal" fill="#111" stroke="#111" stroke-width="0.15">GPIbα</text>
<line x1="316.70" y1="200.60" x2="337.20" y2="200.60" stroke="#111" stroke-width="0.6"/>
<rect x="309.30" y="205.50" width="4.00" height="3.80" fill="#c8102e"/>
<text transform="translate(316.70 209.80)" font-size="7.3" text-anchor="start" font-weight="normal" fill="#111" stroke="#111" stroke-width="0.15">Cre–</text>
<rect x="309.30" y="213.60" width="4.00" height="3.80" fill="#175089"/>
<text transform="translate(316.70 217.80)" font-size="7.3" text-anchor="start" font-weight="normal" fill="#111" stroke="#111" stroke-width="0.15">Cre+</text>
<polyline points="28.20,230.90 29.81,231.36 31.42,229.99 33.03,231.29 34.64,229.79 36.26,230.99 37.87,231.25 39.48,229.75 41.09,230.92 42.70,230.90 43.20,233.00 43.20,217.00 43.40,216.31 43.80,215.21 44.90,214.53 45.34,214.85 45.87,215.45 46.47,216.21 47.11,216.62 47.79,217.41 48.49,218.35 49.18,219.26 49.86,219.85 50.50,220.46 51.12,221.34 51.75,221.65 52.38,222.67 53.01,223.14 53.64,223.75 54.25,224.38 54.85,225.05 55.44,225.78 56.00,225.97 56.68,226.61 57.30,227.02 57.90,227.22 58.49,227.52 59.09,227.48 59.72,227.54 60.40,227.58 60.98,227.67 61.61,227.38 62.27,227.07 62.94,226.86 63.61,226.46 64.27,226.06 64.89,225.93 65.48,225.60 66.00,225.20 66.75,225.06 67.33,224.87 67.85,224.87 68.43,224.68 69.20,224.32 69.73,224.46 70.31,223.96 70.94,223.93 71.60,223.90 72.28,223.49 72.97,223.46 73.66,223.12 74.34,223.21 75.00,223.11 75.60,222.89 76.14,222.88 76.64,222.52 77.14,222.55 77.67,222.38 78.27,222.26 78.97,222.09 79.80,222.14 80.80,222.08 81.26,221.85 81.76,221.88 82.29,221.60 82.85,221.81 83.44,221.74 84.05,221.84 84.68,221.73 85.33,221.47 85.99,221.47 86.66,221.54 87.34,221.25 88.03,221.39 88.72,221.23 89.41,221.18 90.10,221.13 90.79,221.39 91.46,221.11 92.12,221.14 92.77,221.18 93.40,221.36 94.01,221.03 94.60,221.18 95.26,221.22 95.92,221.37 96.57,221.37 97.21,221.41 97.85,221.21 98.48,221.31 99.10,221.33 99.72,221.59 100.33,221.66 100.93,221.39 101.53,221.45 102.12,221.53 102.71,221.58 103.29,221.72 103.86,221.81 104.43,221.72 104.99,221.65 105.55,221.85 106.10,221.85 106.80,221.95 107.51,222.12 108.22,222.03 108.94,221.97 109.64,222.02 110.34,222.05 111.03,221.81 111.69,222.15 112.33,222.10 112.94,222.13 113.52,222.09 114.06,221.91 114.56,221.90 115.01,221.76 115.40,221.95 116.83,221.37 117.10,221.03" fill="none" stroke="#c8102e" stroke-width="1.45" stroke-linejoin="round"/>
<polyline points="28.20,230.00 29.83,229.20 31.47,230.79 33.10,229.45 34.73,228.66 36.37,231.08 38.00,228.83 39.63,230.73 41.27,229.29 42.90,229.60 44.00,230.50 44.00,192.00 44.20,215.80 44.40,215.47 44.77,216.58 45.27,217.10 45.87,217.61 46.54,218.63 47.26,219.72 48.00,220.80 48.57,221.50 49.17,222.97 49.81,224.09 50.46,224.77 51.14,225.84 51.84,226.60 52.56,227.61 53.30,228.69 53.85,229.28 54.43,230.32 55.02,230.51 55.63,231.05 56.24,232.33 56.86,232.63 57.48,232.91 58.10,233.70 58.71,233.79 59.31,234.52 59.90,235.13 60.54,235.28 61.19,235.28 61.83,235.01 62.48,235.05 63.11,234.82 63.74,235.13 64.34,234.83 64.92,234.87 65.48,234.45 66.00,234.31 66.79,234.65 67.49,234.71 68.13,234.55 68.74,234.44 69.36,234.35 70.00,234.17 70.67,233.65 71.33,233.67 72.00,233.35 72.67,232.90 73.33,232.68 74.00,232.65 74.64,232.43 75.26,232.53 75.88,232.51 76.52,231.94 77.22,232.06 78.00,231.84 78.51,231.65 79.04,231.05 79.59,230.76 80.16,230.56 80.75,230.33 81.36,230.13 81.99,230.22 82.64,230.23 83.31,230.00 84.00,229.59 84.53,229.59 85.06,229.57 85.59,228.96 86.12,229.25 86.66,229.32 87.21,229.13 87.79,229.01 88.40,228.73 89.03,228.43 89.70,228.78 90.42,228.39 91.18,228.66 92.00,228.73 92.49,228.30 93.01,228.29 93.56,228.65 94.12,228.49 94.71,228.09 95.31,228.06 95.93,228.07 96.56,228.60 97.21,228.53 97.86,228.07 98.51,228.56 99.17,228.67 99.84,228.45 100.50,228.25 101.15,228.39 101.80,228.11 102.45,228.04 103.08,228.71 103.70,228.50 104.30,228.41 104.89,228.70 105.46,228.35 106.00,228.66 106.73,228.62 107.46,228.19 108.20,228.21 108.93,228.24 109.67,228.19 110.39,228.43 111.10,228.19 111.79,228.30 112.46,228.09 113.10,228.63 113.71,228.23 114.29,228.30 114.83,228.38 115.32,228.60 115.77,228.25 116.16,228.60 116.50,228.30" fill="none" stroke="#175089" stroke-width="1.45" stroke-linejoin="round"/>
<polyline points="131.40,229.70 133.06,229.39 134.71,229.15 136.37,228.16 138.02,228.58 139.68,227.92 141.33,228.96 142.99,227.43 144.64,228.18 146.30,227.40 147.50,227.40 147.60,236.40 148.10,224.00 148.40,221.99 148.83,221.11 149.46,219.81 150.30,219.25 150.82,219.61 151.43,220.20 152.09,221.05 152.77,221.72 153.41,222.73 154.00,223.42 154.74,224.48 155.39,225.66 156.04,226.65 156.80,227.82 157.36,228.70 157.95,229.61 158.56,230.36 159.22,231.32 159.93,232.20 160.70,233.10 161.27,233.77 161.91,234.35 162.58,235.03 163.27,235.67 163.98,236.46 164.67,237.02 165.33,237.67 165.95,238.24 166.50,238.53 167.34,239.38 168.04,240.14 168.67,240.66 169.30,240.90 170.00,241.29 170.64,241.65 171.30,241.74 171.97,241.93 172.65,241.98 173.33,242.22 174.00,242.29 174.67,242.30 175.35,242.01 176.03,242.06 176.70,241.91 177.36,241.62 178.00,241.71 178.60,241.62 179.05,241.30 179.54,241.40 180.29,241.05 181.50,240.80 181.92,240.85 182.38,240.69 182.88,240.37 183.41,240.32 183.98,240.21 184.57,240.02 185.18,239.82 185.82,239.71 186.47,239.67 187.13,239.30 187.81,239.30 188.49,239.11 189.17,238.82 189.85,238.76 190.52,238.69 191.19,238.51 191.84,238.23 192.48,238.37 193.10,238.19 193.71,238.12 194.31,237.74 194.92,237.67 195.53,237.49 196.13,237.60 196.74,237.34 197.34,237.19 197.95,237.17 198.55,237.21 199.16,237.08 199.76,236.81 200.37,236.68 200.97,236.81 201.58,236.61 202.18,236.55 202.79,236.27 203.39,236.16 203.99,236.25 204.60,236.08 205.21,235.87 205.82,236.04 206.43,235.85 207.04,235.81 207.65,235.50 208.27,235.64 208.88,235.31 209.50,235.46 210.11,235.24 210.72,235.12 211.34,235.10 211.94,235.12 212.55,234.83 213.15,234.71 213.75,234.74 214.35,234.57 214.94,234.45 215.52,234.38 216.10,234.27 216.76,234.22 217.44,234.16 218.13,234.06 218.84,234.10 219.56,233.86 220.27,233.83 220.98,233.64 221.68,233.59 222.36,233.40 223.01,233.39 223.64,233.23 224.24,233.37 224.79,233.24 225.30,233.07 225.76,233.09 226.16,233.18 226.50,232.88" fill="none" stroke="#c8102e" stroke-width="1.45" stroke-linejoin="round"/>
<polyline points="131.40,229.00 133.06,229.24 134.71,228.36 136.37,228.21 138.02,228.47 139.68,227.50 141.33,227.39 142.99,226.83 144.64,227.64 146.30,226.60 147.60,226.80 147.70,189.50 147.80,233.00 148.40,225.00 148.60,224.39 148.99,223.78 149.90,223.14 150.44,223.38 151.11,223.71 151.86,224.30 152.63,224.77 153.36,225.48 154.00,226.00 154.77,227.08 155.41,227.26 156.05,227.75 156.80,228.46 157.36,229.66 157.95,230.46 158.56,231.17 159.22,231.77 159.93,232.60 160.70,233.46 161.27,234.10 161.91,234.42 162.58,235.17 163.27,235.57 163.98,236.59 164.67,237.10 165.33,237.28 165.95,237.52 166.50,238.43 167.34,238.61 168.04,239.21 168.67,239.44 169.30,240.10 170.00,240.48 170.64,240.70 171.30,240.61 171.97,240.90 172.65,240.58 173.33,240.76 174.00,240.61 174.67,240.78 175.35,240.44 176.03,240.31 176.70,240.37 177.36,240.17 178.00,240.26 178.60,240.06 179.05,240.06 179.54,239.81 180.29,239.60 181.50,239.37 181.92,238.91 182.38,238.74 182.88,239.06 183.41,238.34 183.98,238.59 184.57,238.37 185.18,237.78 185.82,238.17 186.47,238.04 187.13,237.68 187.81,237.57 188.49,237.45 189.17,236.81 189.85,236.90 190.52,236.72 191.19,236.79 191.84,236.61 192.48,236.47 193.10,236.16 193.71,236.24 194.31,235.95 194.92,235.82 195.53,235.36 196.13,235.08 196.74,235.02 197.34,235.04 197.95,234.73 198.55,235.12 199.16,234.80 199.76,234.72 200.37,234.60 200.97,234.53 201.58,234.28 202.18,233.83 202.79,234.29 203.39,234.15 203.99,233.89 204.60,233.82 205.21,233.83 205.83,233.34 206.46,233.74 207.09,233.33 207.73,233.15 208.37,233.22 209.01,233.50 209.65,233.08 210.28,233.41 210.92,233.53 211.54,233.15 212.16,233.04 212.76,233.07 213.36,233.18 213.94,233.21 214.51,233.07 215.06,233.06 215.59,232.63 216.10,232.65 216.89,232.69 217.67,232.99 218.43,232.66 219.17,232.82 219.89,232.42 220.57,232.44 221.21,232.57 221.80,232.85 222.35,232.85 222.83,232.84 223.25,232.56 223.60,232.71" fill="none" stroke="#175089" stroke-width="1.45" stroke-linejoin="round"/>
<polyline points="249.40,230.90 251.10,230.72 252.80,230.50 254.50,229.91 256.20,230.40 257.90,229.56 259.60,230.04 261.30,229.40 262.20,229.20 262.20,238.20 262.60,225.00 262.80,222.17 263.90,218.81 264.32,219.66 264.82,220.82 265.39,222.17 266.02,223.43 266.68,224.94 267.36,226.54 268.04,228.41 268.70,229.58 269.29,230.99 269.89,232.11 270.50,233.59 271.13,235.09 271.76,236.09 272.40,237.66 273.03,238.79 273.67,240.14 274.30,241.18 274.93,242.04 275.56,243.29 276.19,244.07 276.83,244.78 277.46,245.63 278.10,246.66 278.73,247.44 279.37,248.16 280.00,248.86 280.64,249.69 281.30,250.41 281.96,251.33 282.62,251.68 283.28,252.63 283.92,253.28 284.54,253.57 285.14,254.41 285.70,254.79 286.47,255.44 287.16,255.63 287.81,256.01 288.44,256.29 289.09,256.77 289.80,256.84 290.33,256.90 290.84,257.07 291.34,257.11 291.86,257.11 292.42,257.21 293.05,257.55 293.77,257.38 294.60,257.67 295.11,257.41 295.68,257.43 296.29,257.53 296.94,257.40 297.62,257.47 298.32,257.70 299.04,257.65 299.76,257.61 300.48,257.52 301.18,257.61 301.86,257.60 302.51,257.41 303.12,257.45 303.69,257.15 304.20,257.39 305.03,257.21 305.74,257.23 306.35,257.08 306.90,256.82 307.41,256.61 307.91,256.85 308.43,256.43 309.00,256.49 309.58,256.38 310.13,256.32 310.67,256.47 311.22,256.54 311.79,256.23 312.40,256.36 313.06,256.18 313.80,256.22 314.35,256.11 314.95,255.96 315.59,255.89 316.26,255.84 316.95,256.04 317.65,255.80 318.35,255.61 319.04,255.81 319.71,255.78 320.35,255.49 320.95,255.31 321.50,255.28 322.27,255.17 323.02,255.22 323.72,255.07 324.38,255.10 324.98,255.07 325.51,255.17 325.95,255.27 326.30,255.20" fill="none" stroke="#c8102e" stroke-width="1.45" stroke-linejoin="round"/>
<polyline points="249.40,230.20 250.50,229.00 251.70,228.40 253.62,228.33 255.54,228.17 257.46,227.90 259.38,227.88 261.30,227.60 262.30,227.50 262.40,190.70 262.50,231.00 263.20,224.00 263.40,222.39 264.00,220.89 264.45,221.62 265.02,222.93 265.68,223.35 266.41,224.78 267.17,226.12 267.95,227.57 268.70,228.40 269.28,229.46 269.88,230.54 270.50,231.79 271.12,233.00 271.75,234.55 272.39,235.67 273.03,236.85 273.67,237.39 274.30,238.47 274.93,239.99 275.57,241.15 276.22,241.88 276.86,242.96 277.51,243.53 278.15,244.74 278.78,246.00 279.40,246.76 280.00,247.55 280.66,248.41 281.30,248.61 281.94,249.15 282.56,249.76 283.17,250.55 283.78,251.17 284.39,251.83 285.00,252.16 285.61,252.56 286.21,253.07 286.81,253.25 287.41,253.68 288.01,253.66 288.60,254.51 289.20,254.42 289.80,255.19 290.37,255.27 290.89,255.26 291.39,255.35 291.90,255.63 292.45,256.07 293.06,256.29 293.77,256.05 294.60,256.20 295.10,256.61 295.64,256.75 296.21,256.71 296.82,256.68 297.44,257.04 298.09,256.72 298.76,257.01 299.44,257.21 300.13,257.64 300.82,257.50 301.51,257.75 302.20,257.55 302.88,257.46 303.55,257.55 304.20,258.12 304.79,258.01 305.38,257.81 305.96,257.68 306.53,258.09 307.10,258.29 307.67,258.18 308.24,258.13 308.82,258.49 309.40,258.73 309.99,258.31 310.59,258.23 311.20,258.49 311.82,258.60 312.46,258.82 313.12,258.51 313.80,258.96 314.37,258.93 314.99,258.78 315.64,258.57 316.31,259.10 317.01,258.63 317.73,258.98 318.46,258.55 319.19,258.53 319.92,258.89 320.65,258.54 321.36,258.98 322.06,258.64 322.73,258.40 323.38,258.40 323.99,258.51 324.55,258.67 325.07,258.85 325.54,258.27 325.95,258.43 326.30,258.30" fill="none" stroke="#175089" stroke-width="1.45" stroke-linejoin="round"/>
<polyline points="27.90,320.00 29.43,319.82 30.95,319.14 32.48,320.13 34.01,319.04 35.54,320.16 37.06,318.22 38.59,318.80 40.12,319.33 41.65,317.85 43.17,319.19 44.70,318.20 45.70,320.50 45.70,260.20 45.90,316.00 46.50,312.00 46.80,309.63 47.19,308.28 47.79,306.03 48.60,304.75 49.10,305.29 49.66,305.16 50.28,305.82 50.95,305.87 51.66,306.80 52.40,306.96 53.00,307.18 53.65,308.02 54.34,308.62 55.05,308.42 55.76,309.29 56.45,309.75 57.10,309.84 57.70,310.29 58.41,310.44 59.04,310.72 59.63,310.94 60.21,311.38 60.83,311.62 61.50,311.56 62.13,311.76 62.80,312.43 63.48,313.16 64.18,313.24 64.89,313.79 65.60,314.12 66.30,314.94 66.91,314.98 67.51,314.79 68.12,314.99 68.73,315.37 69.34,315.63 69.96,315.83 70.58,315.53 71.20,315.73 71.83,316.31 72.48,316.23 73.13,316.28 73.79,316.45 74.44,317.11 75.08,316.75 75.70,317.10 76.30,317.09 76.90,317.32 77.40,317.86 77.87,318.16 78.36,317.84 78.94,317.90 79.66,318.51 80.60,318.26 81.06,318.18 81.56,318.96 82.09,318.65 82.66,319.04 83.26,318.78 83.88,319.23 84.52,318.97 85.18,318.80 85.85,318.75 86.53,319.24 87.21,319.38 87.90,319.65 88.58,319.06 89.25,319.54 89.92,319.40 90.57,319.55 91.20,319.32 91.82,319.47 92.44,319.70 93.06,320.07 93.68,319.45 94.29,319.79 94.91,320.07 95.53,320.23 96.14,319.64 96.76,319.61 97.37,320.29 97.99,320.34 98.61,319.97 99.22,319.65 99.84,320.37 100.46,319.96 101.08,320.40 101.70,320.20 102.32,320.38 102.96,319.88 103.59,320.40 104.23,319.98 104.87,320.15 105.52,320.53 106.16,320.54 106.80,320.05 107.44,320.10 108.08,320.26 108.71,320.38 109.33,320.28 109.95,320.09 110.55,320.20 111.15,320.58 111.73,320.72 112.30,320.03 112.99,320.44 113.70,320.57 114.41,319.97 115.13,320.57 115.84,319.95 116.54,320.30 117.21,320.21 117.86,320.22 118.48,319.92 119.05,319.97 119.58,320.05 120.05,319.89 120.46,320.05 120.80,319.86" fill="none" stroke="#175089" stroke-width="1.45" stroke-linejoin="round"/>
<polyline points="27.90,320.90 29.43,322.16 30.95,319.77 32.48,321.96 34.01,319.41 35.54,320.28 37.06,321.63 38.59,319.38 40.12,321.04 41.65,321.72 43.17,319.06 44.70,320.20 45.40,320.20 45.40,308.50 45.80,307.31 46.28,306.52 46.96,306.41 47.76,305.33 48.60,304.09 49.20,304.81 49.88,304.72 50.59,305.07 51.27,305.46 51.89,305.73 52.40,305.95 53.03,307.39 53.80,308.84 54.23,309.91 54.74,309.44 55.30,310.84 55.92,310.50 56.58,311.16 57.27,312.17 57.98,312.67 58.70,312.73 59.25,312.66 59.83,313.50 60.45,313.78 61.08,314.77 61.73,314.36 62.38,314.93 63.03,315.88 63.66,315.26 64.27,315.99 64.86,316.71 65.40,316.89 66.17,316.37 66.87,316.55 67.52,316.69 68.15,317.70 68.79,317.02 69.46,317.60 70.20,317.84 70.77,317.29 71.37,317.30 71.99,318.13 72.63,317.84 73.28,317.53 73.93,318.08 74.56,317.68 75.17,317.65 75.76,317.32 76.30,318.08 77.00,318.08 77.63,317.49 78.22,317.50 78.78,316.11 79.35,315.97 79.95,315.88 80.60,316.10 81.21,315.87 81.85,315.04 82.51,314.70 83.19,314.70 83.87,314.59 84.55,314.88 85.23,313.86 85.90,314.33 86.56,314.03 87.20,313.88 87.84,313.58 88.49,313.14 89.14,312.58 89.80,312.33 90.49,312.15 91.20,312.41 91.80,311.49 92.43,311.48 93.08,311.96 93.75,311.29 94.42,310.97 95.08,310.83 95.73,311.29 96.36,310.93 96.95,311.54 97.50,311.32 98.19,311.28 98.79,310.33 99.33,309.97 99.86,309.84 100.40,310.12 101.00,310.20 101.70,309.74 102.26,309.38 102.87,309.45 103.53,309.53 104.21,309.45 104.90,309.39 105.59,309.35 106.27,309.02 106.93,308.30 107.54,308.97 108.10,308.27 108.82,308.45 109.49,308.13 110.11,308.44 110.69,307.77 111.24,307.77 111.77,307.73 112.30,307.62 113.06,308.47 113.81,308.24 114.50,308.10 115.08,308.30 115.50,309.04" fill="none" stroke="#c8102e" stroke-width="1.45" stroke-linejoin="round"/>
<polyline points="134.00,320.00 135.63,319.84 137.27,318.84 138.90,319.43 140.53,319.04 142.17,318.41 143.80,318.90 145.43,317.90 147.07,318.10 148.70,317.80 150.00,318.00 151.00,312.54 151.48,308.82 152.19,303.39 153.00,300.11 153.55,300.18 154.16,300.91 154.80,302.55 155.43,304.22 156.00,305.37 156.85,307.61 157.62,309.36 158.30,311.72 159.10,314.79 159.80,317.71 160.50,320.48 161.30,323.70 161.98,325.61 162.75,327.87 163.60,329.52 164.16,331.21 164.75,332.68 165.37,333.97 165.99,335.38 166.60,336.35 167.17,337.88 167.72,338.69 168.28,339.92 168.90,340.92 169.60,341.63 170.16,342.78 170.76,343.72 171.39,344.18 172.05,345.23 172.74,346.32 173.46,346.89 174.20,348.10 174.73,348.34 175.25,349.15 175.77,349.34 176.31,350.03 176.86,350.74 177.44,350.89 178.06,351.44 178.72,352.09 179.43,352.54 180.20,352.97 180.72,353.42 181.26,353.79 181.84,354.58 182.44,354.87 183.06,355.40 183.70,355.46 184.35,356.20 185.01,356.29 185.67,356.92 186.34,357.40 187.01,357.67 187.67,358.33 188.32,358.56 188.97,358.95 189.59,359.46 190.20,359.40 190.83,360.19 191.46,360.33 192.08,360.52 192.69,361.02 193.30,361.04 193.91,361.68 194.51,361.73 195.11,361.88 195.71,362.33 196.31,362.42 196.90,362.52 197.50,363.04 198.10,362.92 198.70,363.53 199.30,363.48 199.91,363.89 200.54,364.28 201.18,364.29 201.82,364.53 202.47,364.55 203.12,364.59 203.76,364.79 204.40,365.03 205.02,365.44 205.63,365.52 206.22,365.73 206.78,366.10 207.32,365.88 207.83,366.10 208.30,366.48 209.23,366.53 210.07,366.89 210.82,367.43 211.48,367.65 212.05,368.08 212.52,368.27 212.90,368.64" fill="none" stroke="#175089" stroke-width="1.45" stroke-linejoin="round"/>
<polyline points="134.00,318.10 135.63,317.73 137.27,318.03 138.90,317.19 140.53,317.16 142.17,316.37 143.80,317.24 145.43,316.03 147.07,316.64 148.70,315.90 149.40,316.00 149.50,281.30 149.60,320.60 150.50,310.00 151.00,305.80 151.37,303.14 152.30,301.19 152.79,301.52 153.40,302.12 154.08,303.13 154.81,304.23 155.53,305.80 156.21,306.91 156.80,307.73 157.46,308.79 158.00,309.40 158.51,310.28 159.08,310.86 159.80,311.47 160.36,312.47 160.98,312.77 161.65,313.81 162.36,314.56 163.07,315.30 163.78,316.01 164.46,317.14 165.10,317.46 165.79,318.47 166.46,319.37 167.12,319.64 167.76,320.31 168.39,321.12 169.00,321.65 169.60,322.27 170.26,322.95 170.86,323.17 171.45,323.74 172.05,324.21 172.69,324.53 173.40,325.39 173.99,325.66 174.60,325.93 175.25,325.86 175.91,326.55 176.60,326.78 177.29,326.91 177.99,327.33 178.70,327.48 179.27,327.61 179.87,327.80 180.47,328.12 181.08,328.28 181.70,328.69 182.32,329.15 182.93,329.38 183.53,329.70 184.13,329.88 184.70,329.88 185.38,330.30 186.02,330.50 186.63,330.92 187.24,331.03 187.86,331.14 188.52,331.57 189.22,331.98 190.00,331.86 190.50,332.35 191.00,332.08 191.51,332.36 192.03,332.50 192.55,332.92 193.10,333.18 193.67,333.24 194.26,333.20 194.89,333.65 195.55,333.55 196.26,333.69 197.00,334.21 197.80,334.27 198.31,334.42 198.87,334.54 199.47,334.83 200.10,334.72 200.77,335.06 201.46,335.14 202.17,335.38 202.89,335.33 203.62,335.63 204.36,335.71 205.09,335.74 205.81,335.85 206.52,336.21 207.21,336.09 207.88,336.65 208.51,336.40 209.12,336.47 209.68,336.63 210.19,337.15 210.65,336.96 211.06,336.95 211.40,336.96" fill="none" stroke="#c8102e" stroke-width="1.45" stroke-linejoin="round"/>
<polyline points="248.80,318.28 249.19,318.71 249.71,318.63 250.32,318.63 251.01,318.60 251.74,318.09 252.50,318.41 253.26,318.22 254.00,318.52 254.61,318.52 255.29,318.59 256.01,318.03 256.74,318.61 257.48,318.67 258.18,318.72 258.84,318.16 259.43,318.26 259.92,318.21 260.30,318.17 260.70,325.20 262.60,314.74 263.05,316.10 263.69,317.93 264.42,320.38 265.10,322.69 265.71,325.25 266.31,328.29 266.93,331.33 267.60,334.18 268.22,335.03 268.90,335.93 269.59,336.57 270.24,336.77 270.80,337.53 271.53,338.50 272.11,339.71 272.60,340.91 273.60,348.97 274.60,355.52 275.29,357.83 276.10,360.45 276.69,361.73 277.34,362.65 278.10,364.14 278.64,364.83 279.23,365.71 279.85,366.01 280.48,366.82 281.10,367.23 281.70,367.48 282.30,368.36 282.89,368.22 283.49,369.12 284.10,369.07 284.70,369.35 285.29,369.87 285.89,370.65 286.52,371.20 287.20,370.95 287.81,371.69 288.47,372.13 289.14,372.80 289.83,372.81 290.52,373.44 291.20,373.69 291.76,374.31 292.21,374.11 292.65,374.76 293.21,374.48 294.02,374.67 295.20,375.34 295.62,375.32 296.09,375.17 296.59,375.68 297.13,375.43 297.71,376.08 298.31,376.17 298.93,376.40 299.57,376.45 300.23,376.43 300.90,376.64 301.58,376.81 302.27,377.33 302.95,376.94 303.64,377.68 304.31,377.24 304.98,377.54 305.63,377.74 306.26,378.35 306.87,378.22 307.45,378.28 308.00,378.77 308.67,378.49 309.28,378.82 309.85,379.03 310.38,379.35 310.88,379.51 311.36,379.59 311.84,379.53 312.33,379.67 312.83,379.69 313.36,380.31 313.93,380.32 314.55,380.50 315.22,380.23 315.96,380.53 316.79,380.88 317.70,380.86 318.16,380.59 318.65,380.87 319.17,381.21 319.72,380.80 320.30,380.81 320.90,380.93 321.53,381.26 322.17,381.40 322.84,380.95 323.51,380.99 324.20,381.09 324.91,381.19 325.62,381.36 326.33,381.14 327.05,381.29 327.77,381.23 328.50,381.81 329.22,381.67 329.93,381.26 330.64,381.89 331.33,381.32 332.02,381.54 332.69,381.99 333.34,381.88 333.98,381.86 334.59,381.68 335.18,381.53 335.75,381.87 336.29,381.52 336.79,381.61 337.27,381.75 337.71,381.52 338.11,381.80 338.48,382.09 338.80,382.04" fill="none" stroke="#c8102e" stroke-width="1.45" stroke-linejoin="round"/>
<polyline points="248.80,317.20 249.24,317.21 249.86,316.97 250.58,316.61 251.32,316.80 252.00,316.53 252.59,316.64 253.14,316.60 253.70,316.12 254.31,316.14 255.00,316.27 255.60,316.14 256.31,316.16 257.06,316.71 257.81,317.05 258.50,317.19 259.08,317.32 259.50,317.55 260.10,309.40 262.60,310.00 263.90,312.67 264.37,314.06 265.05,316.09 265.80,318.83 266.41,321.81 267.09,325.06 267.75,328.62 268.30,331.51 269.50,336.59 270.09,338.72 270.76,340.90 271.50,343.07 272.10,344.38 272.74,345.59 273.41,346.56 274.10,347.67 274.67,348.54 275.27,348.95 275.88,349.81 276.49,350.53 277.10,351.06 277.70,351.81 278.30,352.73 278.90,353.08 279.50,353.97 280.10,354.46 280.67,355.29 281.20,355.87 281.75,356.20 282.37,356.52 283.10,357.23 283.62,357.56 284.18,357.98 284.78,358.24 285.40,358.65 286.06,359.08 286.74,359.31 287.46,359.62 288.20,360.18 288.76,360.13 289.32,360.56 289.90,360.68 290.50,361.06 291.11,361.04 291.74,361.62 292.38,361.61 293.05,361.73 293.74,362.07 294.46,362.38 295.20,362.51 295.72,362.86 296.25,363.07 296.79,363.38 297.33,363.46 297.89,363.64 298.45,363.84 299.03,364.27 299.61,364.57 300.21,364.63 300.82,364.73 301.45,365.19 302.09,365.26 302.74,365.41 303.41,365.60 304.10,366.09 304.80,366.32 305.36,366.42 305.93,366.53 306.53,366.74 307.15,366.79 307.78,367.26 308.42,367.19 309.08,367.49 309.74,367.74 310.41,367.92 311.08,367.96 311.76,368.07 312.43,368.35 313.09,368.35 313.76,368.81 314.41,368.79 315.05,369.16 315.68,369.09 316.29,369.29 316.88,369.40 317.45,369.62 318.00,369.67 318.74,369.80 319.45,370.28 320.14,370.30 320.80,370.47 321.45,370.67 322.08,370.92 322.69,371.07 323.29,371.32 323.88,371.49 324.46,371.53 325.04,371.91 325.60,372.02 326.17,371.85 326.73,372.30 327.30,372.46 328.00,372.57 328.68,372.47 329.34,372.88 329.99,372.93 330.62,372.81 331.25,372.92 331.87,373.41 332.49,373.41 333.11,373.36 333.74,373.41 334.36,373.54 335.00,373.69 335.67,374.04 336.37,373.99 337.11,374.05 337.85,374.49 338.60,374.58 339.33,374.46 340.04,374.88 340.70,374.88 341.32,375.06 341.86,375.12 342.33,375.29 342.70,375.32" fill="none" stroke="#175089" stroke-width="1.45" stroke-linejoin="round"/>
</svg>
</body></html>
